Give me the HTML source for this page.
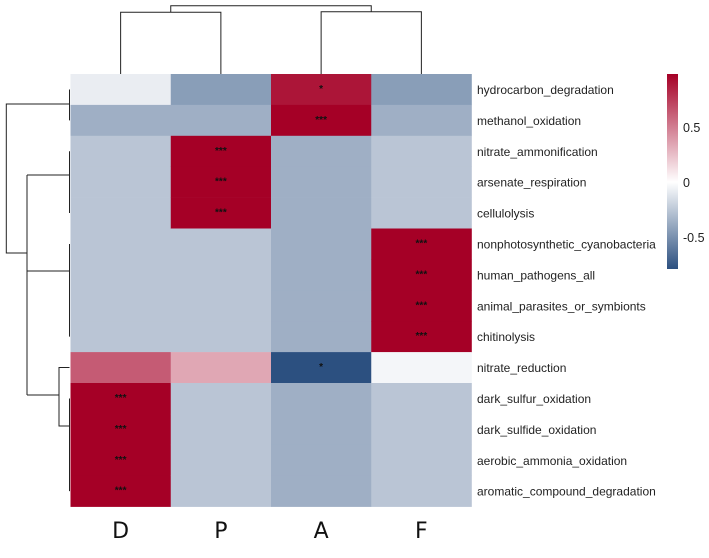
<!DOCTYPE html>
<html><head><meta charset="utf-8"><style>
html,body{margin:0;padding:0;background:#fff;width:709px;height:558px;overflow:hidden}
svg{display:block;font-family:"Liberation Sans",sans-serif}
</style></head><body>
<svg id="chart" width="709" height="558" viewBox="0 0 709 558">
<defs><linearGradient id="cb" x1="0" y1="0" x2="0" y2="1">
<stop offset="0" stop-color="#a50026"/><stop offset="0.554" stop-color="#ffffff"/><stop offset="1" stop-color="#2c5080"/>
</linearGradient></defs>
<g id="cells"></g>
<g id="dendro" stroke="#222" stroke-width="1" fill="none"></g>
<g id="labels"></g>
<g>
<rect x="667" y="74" width="11" height="195" fill="url(#cb)"/>
</g>
</svg>
<script>
const columns = ["D","P","A","F"];
const rowsLabels = ["hydrocarbon_degradation","methanol_oxidation","nitrate_ammonification","arsenate_respiration","cellulolysis","nonphotosynthetic_cyanobacteria","human_pathogens_all","animal_parasites_or_symbionts","chitinolysis","nitrate_reduction","dark_sulfur_oxidation","dark_sulfide_oxidation","aerobic_ammonia_oxidation","aromatic_compound_degradation"];
const colD = [-0.08,-0.36,-0.26,-0.26,-0.26,-0.26,-0.26,-0.26,-0.26,0.63,1,1,1,1];
const colP = [-0.44,-0.36,1,1,1,-0.26,-0.26,-0.26,-0.26,0.34,-0.26,-0.26,-0.26,-0.26];
const colA = [0.9,1,-0.36,-0.36,-0.36,-0.36,-0.36,-0.36,-0.36,-0.79,-0.36,-0.36,-0.36,-0.36];
const colF = [-0.44,-0.36,-0.26,-0.26,-0.26,1,1,1,1,-0.04,-0.26,-0.26,-0.26,-0.26];
const starsD = ["","","","","","","","","","","***","***","***","***"];
const starsP = ["","","***","***","***","","","","","","","","",""];
const starsA = ["*","***","","","","","","","","*","","","",""];
const starsF = ["","","","","","***","***","***","***","","","","",""];
const legendTicks = [0.5,0,-0.5];

const values=[colD,colP,colA,colF], stars=[starsD,starsP,starsA,starsF];
const X0=70.5, CW=100.25, Y0=74, RH=30.9;
const xc=i=>X0+i*CW, yr=j=>Y0+j*RH;
const legY=v=>182-v*110;
function lerp(a,b,t){return a.map((x,i)=>Math.round(x+(b[i]-x)*t));}
function color(v){
  const w=[255,255,255], r=[165,0,38], b=[44,80,128];
  const c = v>=0 ? lerp(w,r,Math.min(1,v/0.98)) : lerp(w,b,Math.min(1,-v/0.79));
  return `rgb(${c[0]},${c[1]},${c[2]})`;
}
const NS="http://www.w3.org/2000/svg";
function mk(tag,attrs,parent){const e=document.createElementNS(NS,tag);for(const k in attrs)e.setAttribute(k,attrs[k]);parent.appendChild(e);return e;}
const cells=document.getElementById('cells'), labels=document.getElementById('labels'), dendro=document.getElementById('dendro');
values.forEach((col,i)=>col.forEach((v,j)=>{
  const r=mk('rect',{x:xc(i),y:yr(j),width:CW+0.3,height:RH+0.3,fill:color(v)},cells);
  
  
  if(stars[i][j]){
    const t=mk('text',{x:xc(i)+CW/2,y:yr(j)+RH/2+2.5,'text-anchor':'middle','font-size':'10','font-weight':'bold',fill:'#111'},cells);
    t.textContent=stars[i][j];
    
    
  }
}));
rowsLabels.forEach((l,j)=>{
  const t=mk('text',{x:477,y:yr(j)+RH/2+4.5,'font-size':'12',fill:'#222'},labels);
  t.textContent=l;
  
  
});
columns.forEach((c,i)=>{
  const t=mk('text',{x:xc(i)+CW/2,y:538,'text-anchor':'middle','font-size':'22','font-family':'DejaVu Sans, sans-serif',fill:'#111'},labels);
  t.textContent=c;
  
  
});
legendTicks.forEach(v=>{
  const t=mk('text',{x:683,y:legY(v)+5,'font-size':'12.5',fill:'#222'},labels);
  t.textContent=String(v);
  
  
});
const cx=i=>xc(i)+CW/2, ry=j=>yr(j)+RH/2;
const paths=[
 `M${cx(0)} 74V12.3H${cx(1)}V74`,
 `M${cx(2)} 74V11.7H${cx(3)}V74`,
 `M${(cx(0)+cx(1))/2} 12.3V5.7H${(cx(2)+cx(3))/2}V11.7`,
 `M69.5 ${ry(0)}V${ry(1)}`,
 `M69.5 104H6.3V253H27`,
 `M27 175V395`,
 `M27 175H69.5M69.5 ${ry(2)}V${ry(4)}`,
 `M27 271H69.5M69.5 ${ry(5)}V${ry(8)}`,
 `M27 395H59V${ry(9)}H69.5M59 395V426H69.5M69.5 ${ry(10)}V${ry(13)}`
];
paths.forEach(d=>{
  const p=mk('path',{d},dendro);
  
  
});
</script>
</body></html>
